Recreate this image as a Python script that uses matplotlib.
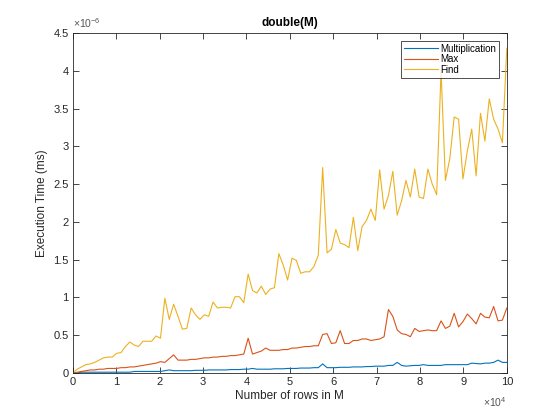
import numpy as np
import matplotlib
matplotlib.use("Agg")
import matplotlib.pyplot as plt
from matplotlib.ticker import FuncFormatter

# ---- data (times in units of 1e-6 ms) ----
rows = np.linspace(0, 100000, 100)

find_t = [0.00, 0.05, 0.08, 0.11, 0.12, 0.14, 0.17, 0.20, 0.21, 0.21,
          0.26, 0.27, 0.35, 0.41, 0.37, 0.35, 0.42, 0.42, 0.42, 0.49,
          0.46, 0.99, 0.71, 0.91, 0.75, 0.58, 0.59, 0.86, 0.77, 0.71,
          0.77, 0.75, 0.94, 0.86, 0.87, 0.87, 0.86, 1.01, 1.01, 0.93,
          1.31, 1.09, 1.06, 1.15, 1.04, 1.11, 1.13, 1.58, 1.43, 1.23,
          1.52, 1.49, 1.32, 1.34, 1.34, 1.41, 1.56, 2.72, 1.59, 1.64,
          1.90, 1.72, 1.70, 1.66, 2.06, 1.62, 1.94, 2.02, 2.17, 2.02,
          2.69, 2.17, 2.35, 2.67, 2.09, 2.28, 2.55, 2.33, 2.70, 2.33,
          2.31, 2.70, 2.50, 2.36, 4.00, 2.55, 2.84, 3.39, 3.36, 2.57,
          2.94, 3.23, 2.61, 3.44, 3.07, 3.63, 3.36, 3.23, 3.05, 4.30]

max_t = [0.00, 0.01, 0.02, 0.03, 0.04, 0.04, 0.05, 0.05, 0.06, 0.06,
         0.06, 0.07, 0.07, 0.08, 0.08, 0.09, 0.10, 0.11, 0.12, 0.13,
         0.15, 0.14, 0.19, 0.24, 0.17, 0.17, 0.17, 0.18, 0.18, 0.19,
         0.20, 0.20, 0.21, 0.21, 0.22, 0.22, 0.23, 0.23, 0.24, 0.25,
         0.46, 0.25, 0.27, 0.29, 0.33, 0.30, 0.30, 0.30, 0.31, 0.31,
         0.33, 0.33, 0.34, 0.35, 0.35, 0.36, 0.36, 0.51, 0.52, 0.39,
         0.40, 0.56, 0.39, 0.39, 0.43, 0.43, 0.45, 0.45, 0.43, 0.44,
         0.45, 0.48, 0.84, 0.75, 0.57, 0.52, 0.51, 0.48, 0.59, 0.55,
         0.56, 0.57, 0.56, 0.56, 0.69, 0.59, 0.62, 0.79, 0.61, 0.68,
         0.78, 0.72, 0.65, 0.79, 0.74, 0.73, 0.88, 0.69, 0.70, 0.86]

mult_t = [0.00, 0.00, 0.01, 0.01, 0.01, 0.01, 0.01, 0.01, 0.01, 0.01,
          0.01, 0.01, 0.01, 0.01, 0.02, 0.02, 0.02, 0.02, 0.02, 0.02,
          0.02, 0.03, 0.04, 0.03, 0.03, 0.03, 0.03, 0.03, 0.035, 0.035,
          0.035, 0.04, 0.04, 0.04, 0.04, 0.04, 0.045, 0.045, 0.045, 0.05,
          0.05, 0.06, 0.05, 0.05, 0.05, 0.05, 0.055, 0.055, 0.055, 0.06,
          0.06, 0.06, 0.065, 0.065, 0.065, 0.07, 0.07, 0.12, 0.07, 0.07,
          0.07, 0.075, 0.075, 0.075, 0.08, 0.08, 0.08, 0.085, 0.085, 0.09,
          0.09, 0.09, 0.10, 0.10, 0.14, 0.10, 0.09, 0.095, 0.10, 0.10,
          0.11, 0.10, 0.10, 0.10, 0.10, 0.11, 0.11, 0.11, 0.11, 0.11,
          0.11, 0.13, 0.125, 0.12, 0.13, 0.13, 0.14, 0.17, 0.14, 0.14]

labels = ["Multiplication", "Max", "Find"]
colors = ["#0072BD", "#D95319", "#EDB120"]

# ---- style (matlab look) ----
plt.rcParams['font.family'] = ['Liberation Sans', 'DejaVu Sans']
plt.rcParams['mathtext.fontset'] = 'custom'
plt.rcParams['mathtext.rm'] = 'Liberation Sans'
plt.rcParams['mathtext.it'] = 'Liberation Sans'
ink = "#262626"

fig = plt.figure(figsize=(5.6, 4.2), dpi=100)
ax = fig.add_axes([0.130, 0.112, 0.775, 0.809])

for ys, lab, c in zip([mult_t, max_t, find_t], labels, colors):
    ax.plot(rows, np.array(ys) * 1e-6, color=c, lw=0.8, label=lab)

ax.set_xlim(0, 100000)
ax.set_ylim(0, 4.5e-6)
ax.set_xticks(np.arange(0, 100001, 10000))
ax.set_yticks(np.arange(0, 4.51e-6, 0.5e-6))
ax.xaxis.set_major_formatter(FuncFormatter(lambda v, p: "%g" % round(v / 1e4, 4)))
ax.yaxis.set_major_formatter(FuncFormatter(lambda v, p: "%g" % round(v / 1e-6, 4)))

ax.tick_params(direction='in', length=4, width=0.6, top=True, right=True,
               labelsize=8, colors=ink, pad=3)
for s in ax.spines.values():
    s.set_linewidth(0.6)
    s.set_color(ink)

ax.set_title("double(M)", fontsize=8.5, fontweight='bold', color='black', pad=5)
ax.set_xlabel("Number of rows in M", fontsize=8.5, color=ink, labelpad=2)
ax.set_ylabel("Execution Time (ms)", fontsize=8.5, color=ink, labelpad=4)

# exponent labels like matlab
ax.text(0.0, 1.008, r"$\mathregular{\times10^{-6}}$", transform=ax.transAxes,
        fontsize=7.5, color="#555555", ha='left', va='bottom')
ax.text(1.0, -0.065, r"$\mathregular{\times10^{4}}$", transform=ax.transAxes,
        fontsize=7.5, color="#555555", ha='right', va='top')

leg = ax.legend(loc='upper right', fontsize=7, frameon=True, fancybox=False,
                edgecolor='black', handlelength=3.5, handletextpad=0.2,
                labelspacing=0.05, borderpad=0.3, borderaxespad=0.8)
leg.get_frame().set_linewidth(0.6)

fig.savefig("out.png", dpi=100)
